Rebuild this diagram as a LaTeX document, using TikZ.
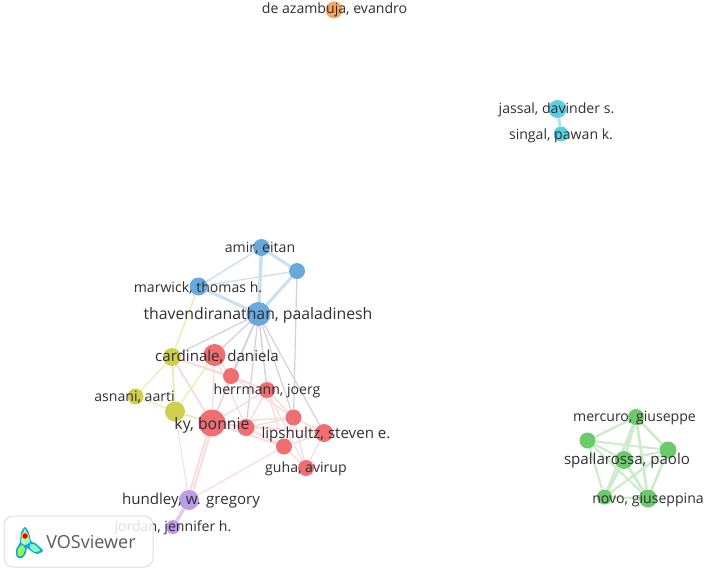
\documentclass[tikz,border=0pt]{standalone}
\usepackage{fontspec}
\usetikzlibrary{backgrounds}
\setmainfont{Open Sans}
\definecolor{cblue}{HTML}{68A9DE}
\definecolor{cred}{HTML}{EF6E72}
\definecolor{cyellow}{HTML}{CFCF4E}
\definecolor{cgreen}{HTML}{6CC96C}
\definecolor{cpurple}{HTML}{BC9CE4}
\definecolor{ccyan}{HTML}{5CCFDE}
\definecolor{corange}{HTML}{F2A862}
\definecolor{ctext}{HTML}{2E2E33}
\definecolor{cmix}{HTML}{D9CDDD}
\begin{document}
\begin{tikzpicture}[x=1pt,y=-1pt,
    dot/.style = {circle,inner sep=0pt,minimum size=#1,draw=none},
    lab/.style = {text=ctext,inner sep=0pt,font=\fontsize{14.1}{16}\selectfont},
    labmid/.style = {text=ctext,inner sep=0pt,font=\fontsize{15.1}{17}\selectfont},
    labbig/.style = {text=ctext,inner sep=0pt,font=\fontsize{15.8}{18}\selectfont},
    bluelink/.style = {draw=cblue!35,line width=#1+0.5pt},
    redlink/.style = {draw=cred!27,line width=#1+0.3pt},
    yellowlink/.style = {draw=cyellow!40,line width=#1+0.4pt},
    greenlink/.style = {draw=cgreen!35,line width=#1+0.9pt},
    purplelink/.style = {draw=cpurple!50,line width=#1+0.5pt},
    cyanlink/.style = {draw=ccyan!50,line width=#1},
    mixlink/.style = {draw=cmix,line width=#1+0.2pt}]
    \useasboundingbox (0,0) rectangle (708,572);

    \node [dot=17pt,fill=corange] (azambuja) at (334,10) {};
    \node [dot=18pt,fill=ccyan] (jassal) at (557.5,109) {};
    \node [dot=15pt,fill=ccyan] (singal) at (561,134) {};

    \node [dot=17pt,fill=cblue] (amir) at (261.5,247.5) {};
    \node [dot=16pt,fill=cblue] (bluetop) at (297,271) {};
    \node [dot=18pt,fill=cblue] (marwick) at (198.5,286.5) {};
    \node [dot=24pt,fill=cblue] (thaven) at (258.5,314) {};

    \node [dot=18pt,fill=cyellow] (cardinale) at (172,357) {};
    \node [dot=16pt,fill=cyellow] (asnani) at (135.5,396.5) {};
    \node [dot=20pt,fill=cyellow] (yellowlow) at (175,411.5) {};

    \node [dot=22pt,fill=cred] (redtop) at (214.5,355) {};
    \node [dot=16pt,fill=cred] (redmid) at (231,376) {};
    \node [dot=16pt,fill=cred] (herrmann) at (267,390) {};
    \node [dot=27pt,fill=cred] (ky) at (212,423) {};
    \node [dot=17pt,fill=cred] (redky) at (246,427.5) {};
    \node [dot=16pt,fill=cred] (redright) at (293.5,417.5) {};
    \node [dot=18pt,fill=cred] (lipshultz) at (324,433) {};
    \node [dot=16pt,fill=cred] (redlow) at (284,446.5) {};
    \node [dot=16pt,fill=cred] (guha) at (306,468) {};

    \node [dot=20pt,fill=cpurple] (hundley) at (189,500) {};
    \node [dot=14pt,fill=cpurple] (jordan) at (173,527) {};

    \node [dot=16pt,fill=cgreen] (mercuro) at (636,417) {};
    \node [dot=16pt,fill=cgreen] (greenleft) at (587.5,440.5) {};
    \node [dot=17pt,fill=cgreen] (greenright) at (668,450) {};
    \node [dot=18pt,fill=cgreen] (spallarossa) at (624,460) {};
    \node [dot=15pt,fill=cgreen] (greenlow) at (604.5,497) {};
    \node [dot=18pt,fill=cgreen] (novo) at (648,498.5) {};

    \begin{pgfonlayer}{background}
        \draw [cyanlink=3pt] (jassal) -- (singal);

        \draw [bluelink=2.6pt] (amir) -- (bluetop);
        \draw [bluelink=3pt] (amir) -- (thaven);
        \draw [bluelink=2.6pt] (bluetop) -- (thaven);
        \draw [bluelink=2.6pt] (marwick) -- (thaven);
        \draw [bluelink=1pt] (amir) -- (marwick);
        \draw [bluelink=0.8pt] (marwick) -- (bluetop);

        \draw [yellowlink=1.2pt] (marwick) -- (cardinale);
        \draw [mixlink=1pt] (thaven) -- (cardinale);
        \draw [mixlink=1pt] (thaven) -- (redtop);
        \draw [mixlink=1.2pt] (thaven) -- (redmid);
        \draw [mixlink=1.2pt] (thaven) -- (herrmann);
        \draw [mixlink=1pt] (thaven) -- (ky);
        \draw [mixlink=1pt] (thaven) -- (redky);
        \draw [mixlink=1pt] (thaven) -- (redright);
        \draw [mixlink=1pt] (thaven) -- (lipshultz);
        \draw [mixlink=1pt] (bluetop) -- (redright);

        \draw [yellowlink=0.8pt] (cardinale) -- (asnani);
        \draw [yellowlink=1.5pt] (cardinale) -- (yellowlow);
        \draw [yellowlink=0.8pt] (asnani) -- (yellowlow);
        \draw [yellowlink=1.5pt] (yellowlow) -- (ky);
        \draw [redlink=1.4pt] (cardinale) -- (ky);
        \draw [redlink=1pt] (cardinale) -- (redmid);
        \draw [redlink=1pt] (cardinale) -- (herrmann);
        \draw [yellowlink=1pt] (yellowlow) -- (redtop);
        \draw [redlink=0.7pt] (yellowlow) -- (hundley);

        \draw [redlink=1pt] (redtop) -- (ky);
        \draw [redlink=1pt] (redtop) -- (redmid);
        \draw [redlink=0.8pt] (redtop) -- (redky);
        \draw [redlink=1.2pt] (redmid) -- (ky);
        \draw [redlink=1pt] (redmid) -- (redright);
        \draw [redlink=1pt] (redmid) -- (herrmann);
        \draw [redlink=1pt] (herrmann) -- (ky);
        \draw [redlink=1pt] (herrmann) -- (redky);
        \draw [redlink=1pt] (herrmann) -- (redright);
        \draw [redlink=1pt] (herrmann) -- (redlow);
        \draw [redlink=0.8pt] (herrmann) -- (guha);
        \draw [redlink=1.2pt] (ky) -- (redky);
        \draw [redlink=1.2pt] (ky) -- (redright);
        \draw [redlink=1.2pt] (ky) -- (lipshultz);
        \draw [redlink=1.4pt] (ky) -- (redlow);
        \draw [redlink=1.4pt] (redky) -- (redlow);
        \draw [redlink=1pt] (redky) -- (redright);
        \draw [redlink=1pt] (redky) -- (lipshultz);
        \draw [redlink=1pt] (redright) -- (lipshultz);
        \draw [redlink=1pt] (redright) -- (redlow);
        \draw [redlink=1pt] (redright) -- (guha);
        \draw [redlink=1pt] (lipshultz) -- (redlow);
        \draw [redlink=0.8pt] (lipshultz) -- (guha);
        \draw [redlink=0.8pt] (redlow) -- (guha);

        \draw [redlink=1.5pt] ([xshift=-1.5pt]ky.center) -- ([xshift=-1.5pt]hundley.center);
        \draw [redlink=1.5pt] ([xshift=1.5pt]ky.center) -- ([xshift=1.5pt]hundley.center);
        \draw [redlink=0.8pt] (redlow) -- (hundley);
        \draw [purplelink=3pt] (hundley) -- (jordan);

        \draw [greenlink=1.5pt] (mercuro) -- (greenleft);
        \draw [greenlink=1.8pt] (mercuro) -- (greenright);
        \draw [greenlink=2.4pt] (mercuro) -- (spallarossa);
        \draw [greenlink=1.4pt] (mercuro) -- (greenlow);
        \draw [greenlink=1.8pt] (mercuro) -- (novo);
        \draw [greenlink=1.2pt] (greenleft) -- (greenright);
        \draw [greenlink=1.4pt] (greenleft) -- (spallarossa);
        \draw [greenlink=1.2pt] (greenleft) -- (greenlow);
        \draw [greenlink=1.2pt] (greenleft) -- (novo);
        \draw [greenlink=1.5pt] (greenright) -- (spallarossa);
        \draw [greenlink=1.4pt] (greenright) -- (greenlow);
        \draw [greenlink=1.8pt] (greenright) -- (novo);
        \draw [greenlink=2pt] (spallarossa) -- (greenlow);
        \draw [greenlink=2pt] (spallarossa) -- (novo);
        \draw [greenlink=1.4pt] (greenlow) -- (novo);
    \end{pgfonlayer}

    \node [lab] (azambujalab) at (334.5,10) {de azambuja, evandro};
    \node [lab] (jassallab) at (556.5,110) {jassal, davinder s.};
    \node [lab] (singallab) at (561,135.5) {singal, pawan k.};
    \node [lab] (amirlab) at (260,248) {amir, eitan};
    \node [lab] (marwicklab) at (198,288) {marwick, thomas h.};
    \node [labbig] (thavenlab) at (258,315) {thavendiranathan, paaladinesh};
    \node [labmid] (cardinalelab) at (217,357) {cardinale, daniela};
    \node [lab] (herrmannlab) at (267,391) {herrmann, joerg};
    \node [lab] (asnanilab) at (134.5,397.5) {asnani, aarti};
    \node [labbig] (kylab) at (212,425) {ky, bonnie};
    \node [labmid] (lipshultzlab) at (326,435) {lipshultz, steven e.};
    \node [lab] (guhalab) at (306,469) {guha, avirup};
    \node [labmid] (hundleylab) at (191,501) {hundley, w. gregory};
    \node [lab] (jordanlab) at (173,528) {jordan, jennifer h.};
    \node [lab] (mercurolab) at (634.5,418) {mercuro, giuseppe};
    \node [labmid] (spallarossalab) at (627,461) {spallarossa, paolo};
    \node [lab] (novolab) at (648,500) {novo, giuseppina};

    \draw [rounded corners=9pt,draw=black!13,line width=1pt,fill=white,fill opacity=0.85] (4,516) rectangle (153,567);
    \node [lab,text=black!65,font=\fontsize{18}{20}\selectfont] (vos) at (91,541.5) {VOSviewer};

    \fill [cyan!80!teal] plot [smooth cycle] coordinates {(25,527) (29,533) (31,541) (35,543) (41,548) (43,551) (37,554) (31,551) (27,548) (26,553) (22,558) (17,557) (16,550) (20,542) (21,533)};
    \fill [green!45!cyan!40] plot [smooth cycle] coordinates {(25,529) (28,536) (30,542) (25,545) (21,542) (23,534)};
    \fill [green!60!yellow!70] plot [smooth cycle] coordinates {(22,545) (25,549) (22,556) (18,555) (18,549)};
    \fill [green!50!cyan!50] plot [smooth cycle] coordinates {(31,544) (35,545) (40,550) (35,552) (30,548)};
    \fill [yellow!80!orange] (25,536) circle (3.8pt);
    \fill [red!85!black] (25,536) circle (2.6pt);
\end{tikzpicture}
\end{document}
